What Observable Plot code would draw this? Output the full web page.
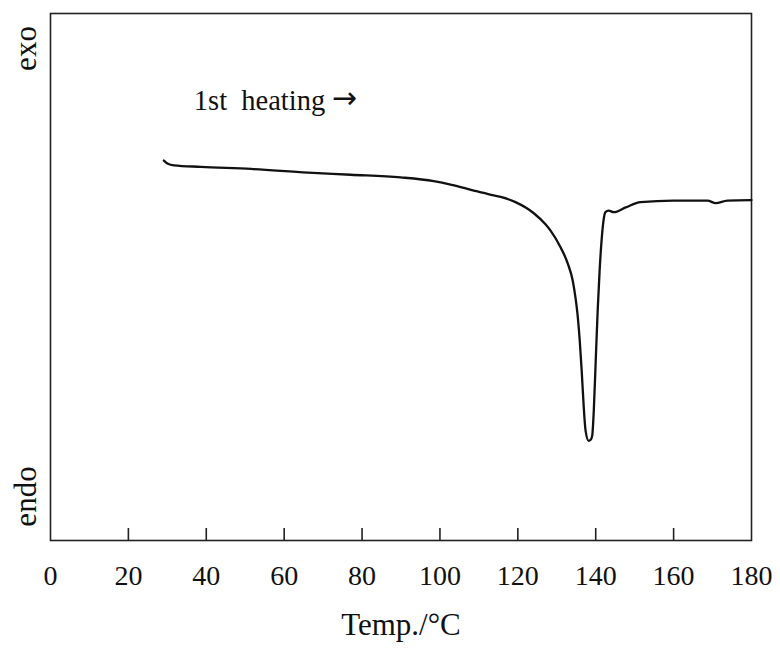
<!DOCTYPE html>
<html>
<head>
<meta charset="utf-8">
<script src="https://cdn.jsdelivr.net/npm/d3@7"></script>
<script src="https://cdn.jsdelivr.net/npm/@observablehq/plot@0.6"></script>
<style>
  html, body { margin: 0; padding: 0; background: #fff; }
  #chart svg { display: block; }
</style>
</head>
<body>
<div id="chart"></div>
<script>
// Temperature (°C) of the DSC trace
const temps = [29.1, 30.15, 31.7, 38.6, 51.5, 66.1, 77.1, 89.9, 98.4, 103.0, 108.7, 113.1, 115.6, 119.4, 124.1, 127.1, 128.4, 131.0, 132.8, 134.1, 134.8, 135.3, 135.9, 136.4, 136.9, 137.4, 138.2, 138.7, 139.1, 139.5, 140.0, 140.5, 141.0, 141.5, 142.0, 142.5, 143.3, 144.6, 147.7, 151.5, 160.0, 168.7, 170.8, 173.8, 180.0];
// Heat flow (arbitrary units, exo up)
const heatFlow = [72.1, 71.5, 71.2, 70.9, 70.5, 69.8, 69.4, 68.9, 68.2, 67.5, 66.4, 65.6, 65.2, 64.2, 62.1, 60.0, 58.8, 55.6, 52.6, 49.3, 46.1, 43.1, 37.9, 32.2, 25.6, 20.8, 18.9, 19.1, 19.9, 24.6, 34.1, 43.6, 51.2, 56.9, 60.7, 62.3, 62.6, 62.3, 63.2, 64.2, 64.5, 64.5, 64.0, 64.5, 64.6];
const xTickValues = [0, 20, 40, 60, 80, 100, 120, 140, 160, 180];
const xTickMarks = [20, 40, 60, 80, 100, 120, 140, 160];
const xLabel = "Temp./°C";
const annotation = [{text: "1st  heating", arrow: "→", t: 36.8, h: 83.5}];

const data = temps.map((t, i) => ({t, h: heatFlow[i]}));
const serif = "'Liberation Serif', 'Times New Roman', Times, serif";

const chart = Plot.plot({
  width: 780,
  height: 648,
  marginLeft: 50,
  marginRight: 29,
  marginTop: 13,
  marginBottom: 108,
  style: {fontFamily: serif, fontSize: "28px", color: "#111", background: "#fff"},
  x: {domain: [0, 180]},
  y: {domain: [0, 100], axis: null},
  marks: [
    Plot.frame({stroke: "#222", strokeWidth: 1.6}),
    Plot.axisX(xTickMarks, {tickSize: -12, strokeWidth: 1.6, stroke: "#222", text: null, label: null}),
    Plot.axisX(xTickValues, {tickSize: 0, tickPadding: 25, fontSize: 28, fill: "#111", label: null}),
    Plot.line(data, {x: "t", y: "h", stroke: "#111", strokeWidth: 2.3, curve: "monotone-x"}),
    Plot.text(annotation, {x: "t", y: "h", text: "text", textAnchor: "start", fontSize: 28.5, fill: "#111"}),
    Plot.text(annotation, {x: "t", y: "h", text: "arrow", textAnchor: "start", dx: 138, dy: -2, fontSize: 30, fontFamily: "'DejaVu Sans'", fill: "#111"}),
    Plot.text([xLabel], {frameAnchor: "bottom", textAnchor: "middle", lineAnchor: "middle", dy: 85, fontSize: 31, fill: "#111"}),
    Plot.text(["exo"], {frameAnchor: "top-left", textAnchor: "middle", lineAnchor: "middle", dx: -24, dy: 35, rotate: -90, fontSize: 31, fill: "#111"}),
    Plot.text(["endo"], {frameAnchor: "bottom-left", textAnchor: "middle", lineAnchor: "middle", dx: -24, dy: -44, rotate: -90, fontSize: 31, fill: "#111"})
  ]
});
document.getElementById("chart").appendChild(chart);
</script>
</body>
</html>
